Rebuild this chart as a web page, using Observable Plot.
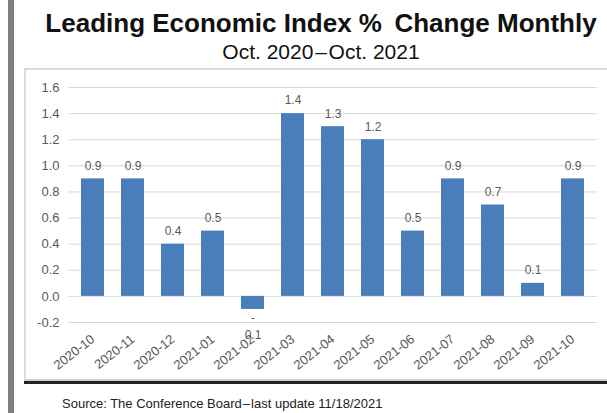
<!DOCTYPE html>
<html><head><meta charset="utf-8">
<script src="https://cdn.jsdelivr.net/npm/d3@7"></script>
<script src="https://cdn.jsdelivr.net/npm/@observablehq/plot@0.6"></script>
<style>
body{margin:0;background:#fff;font-family:"Liberation Sans",Arial,sans-serif;}
#wrap{position:relative;width:607px;height:413px;overflow:hidden;background:#fff;}
#lbar{position:absolute;left:8px;top:0;width:6px;height:413px;background:#7f7f7f;}
#title{position:absolute;left:21px;width:600px;top:8px;text-align:center;font-weight:bold;font-size:26px;line-height:30px;color:#111;white-space:nowrap;}
#sub{position:absolute;left:21px;width:600px;top:40px;text-align:center;font-size:21px;line-height:24px;color:#111;white-space:nowrap;}
#box{position:absolute;left:24px;top:68px;width:600px;height:309px;border:2px solid #dcdcdc;border-bottom:2px solid #d0d0d0;box-shadow:0 3px 0 #222;background:#fff;}
#chart{position:absolute;left:1px;top:0px;}
#src{position:absolute;left:62px;top:396px;font-size:13px;color:#222;white-space:nowrap;}
</style></head>
<body>
<div id="wrap">
<div id="lbar"></div>
<div id="title">Leading Economic Index % &thinsp;Change Monthly</div>
<div id="sub">Oct. 2020&#8202;–&#8202;Oct. 2021</div>
<div id="box"><div id="chart"></div></div>
<div id="src">Source: The Conference Board&#8202;–&#8202;last update 11/18/2021</div>
</div>
<script>
const months = ["2020-10","2020-11","2020-12","2021-01","2021-02","2021-03","2021-04","2021-05","2021-06","2021-07","2021-08","2021-09","2021-10"];
const values = [0.9,0.9,0.4,0.5,-0.1,1.4,1.3,1.2,0.5,0.9,0.7,0.1,0.9];
const valueLabels = ["0.9","0.9","0.4","0.5","-\n0.1","1.4","1.3","1.2","0.5","0.9","0.7","0.1","0.9"];
const yTicks = [-0.2,0,0.2,0.4,0.6,0.8,1.0,1.2,1.4,1.6];

const data = months.map((m,i)=>({month:m, value:values[i], label:valueLabels[i]}));
const pos = data.filter(d=>d.value>=0), neg = data.filter(d=>d.value<0);

const chart = Plot.plot({
  width: 582, height: 310,
  marginLeft: 41, marginRight: 12, marginTop: 17, marginBottom: 58,
  style: {fontFamily: '"Liberation Sans", Arial, sans-serif', background: "transparent"},
  x: {domain: months, paddingInner: 0.433, paddingOuter: 0.246, label: null},
  y: {domain: [-0.2, 1.6], label: null},
  marks: [
    Plot.gridY(yTicks, {stroke: "#d9d9d9", strokeOpacity: 1, strokeWidth: 1}),
    Plot.axisY(yTicks, {tickSize: 0, tickPadding: 9, fontSize: 13, fill: "#595959", tickFormat: d => d.toFixed(1), label: null}),
    Plot.axisX({tickSize: 0, tickPadding: 15, tickRotate: -38, fontSize: 13, fill: "#595959", label: null}),
    Plot.barY(data, {x: "month", y: "value", fill: "#4a7ebb"}),
    Plot.text(pos, {x: "month", y: "value", text: "label", dy: -13, fontSize: 12, fill: "#595959"}),
    Plot.text(neg, {x: "month", y: "value", text: "label", lineAnchor: "top", dy: 1, lineHeight: 1.4, fontSize: 12, fill: "#595959"})
  ]
});
document.getElementById("chart").appendChild(chart);
</script>
</body></html>
